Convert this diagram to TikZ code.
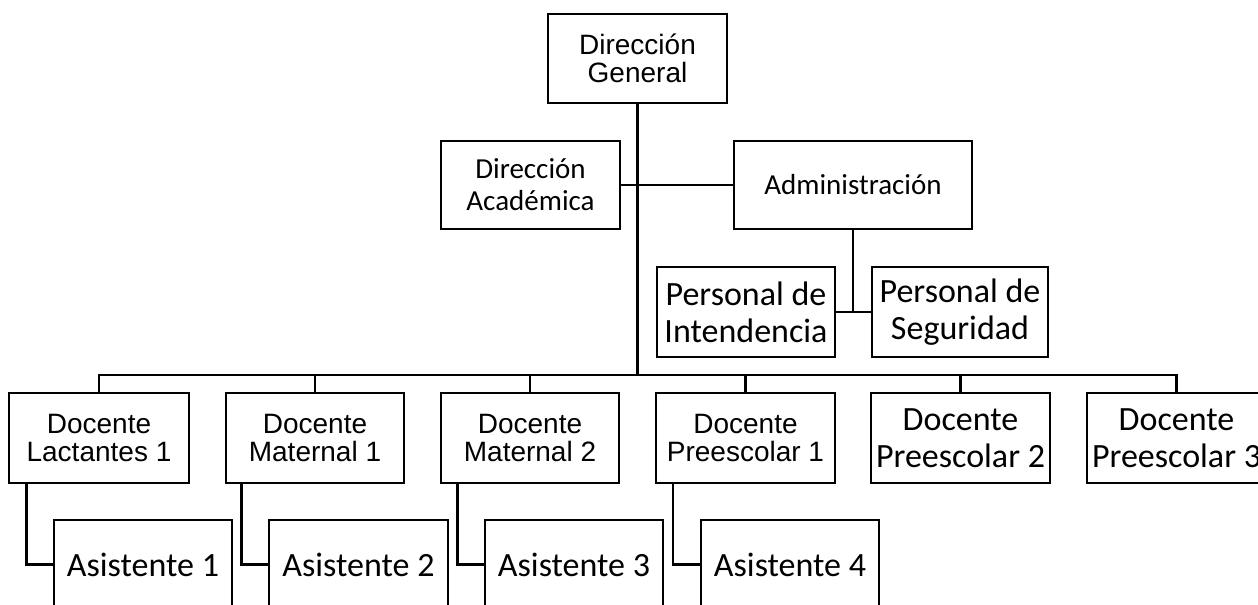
\documentclass[tikz,border=0pt]{standalone}
\usepackage{fontspec}
\newfontfamily\arialf{Liberation Sans}
\newfontfamily\calf{Carlito}
\usetikzlibrary{calc}
\begin{document}
\begin{tikzpicture}[x=0.75pt,y=-0.75pt,
  orgbox/.style={draw,line width=1.9pt,inner sep=0pt,align=center,fill=white},
  arialtxt/.style={font=\arialf\fontsize{21}{21.5}\selectfont},
  calsmall/.style={font=\calf\fontsize{21.75}{24}\selectfont},
  calbig/.style={font=\calf\fontsize{25.5}{27.5}\selectfont},
  link/.style={line width=1.9pt},
  trunk/.style={line width=2.4pt}]
\useasboundingbox (0,0) rectangle (1258,605);
\fill[white] (0,0) rectangle (1258,605);

% top levels
\node[orgbox,arialtxt,minimum width=134pt,minimum height=66.75pt] (dg) at (637.5,58.5) {Dirección\\General};
\node[orgbox,calsmall,minimum width=134pt,minimum height=66pt] (acad) at (530.5,185) {Dirección\\Académica};
\node[orgbox,calsmall,minimum width=178.5pt,minimum height=66pt] (admin) at (853,185) {Administración};
\node[orgbox,calbig,minimum width=133.5pt,minimum height=67.5pt] (intend) at (746,312) {Personal de\\Intendencia};
\node[orgbox,calbig,minimum width=132pt,minimum height=67.5pt] (segur) at (960,312) {Personal de\\Seguridad};

% docentes
\node[orgbox,arialtxt,minimum width=135pt,minimum height=67.5pt] (d1) at (99,438) {Docente\\Lactantes 1};
\node[orgbox,arialtxt,minimum width=133.5pt,minimum height=67.5pt] (d2) at (315,438) {Docente\\Maternal 1};
\node[orgbox,arialtxt,minimum width=133.5pt,minimum height=67.5pt] (d3) at (530,438) {Docente\\Maternal 2};
\node[orgbox,arialtxt,minimum width=134pt,minimum height=67.5pt] (d4) at (745.5,438) {Docente\\Preescolar 1};
\node[orgbox,calbig,minimum width=134pt,minimum height=67.5pt] (d5) at (960.5,438) {Docente\\Preescolar 2};
\node[orgbox,calbig,minimum width=134pt,minimum height=67.5pt] (d6) at (1176.5,438) {Docente\\Preescolar 3};

% asistentes
\node[orgbox,calbig,minimum width=133.5pt,minimum height=66.75pt] (a1) at (143,564.5) {Asistente 1};
\node[orgbox,calbig,minimum width=134pt,minimum height=66.75pt] (a2) at (358.5,564.5) {Asistente 2};
\node[orgbox,calbig,minimum width=133.5pt,minimum height=66.75pt] (a3) at (574,564.5) {Asistente 3};
\node[orgbox,calbig,minimum width=133.5pt,minimum height=66.75pt] (a4) at (790,564.5) {Asistente 4};

% connectors
\coordinate (bar) at (637.5,375);
\coordinate (pj) at (853,312);
\draw[trunk] (dg.south) -- (bar);
\draw[link] (acad.east) -- (admin.west);
\draw[link] (admin.south) -- (pj);
\draw[link] (intend.east) -- (segur.west);
\draw[link] (d1.north) |- (d6.north |- bar) -- (d6.north);
\foreach \d in {d2,d3,d4,d5}{\draw[link] (\d.north) -- (\d.north |- bar);}
\draw[link] ($(d1.south west)+(19,0)$) |- (a1.west);
\draw[link] ($(d2.south west)+(17,0)$) |- (a2.west);
\draw[link] ($(d3.south west)+(18,0)$) |- (a3.west);
\draw[link] ($(d4.south west)+(18,0)$) |- (a4.west);
\end{tikzpicture}
\end{document}
